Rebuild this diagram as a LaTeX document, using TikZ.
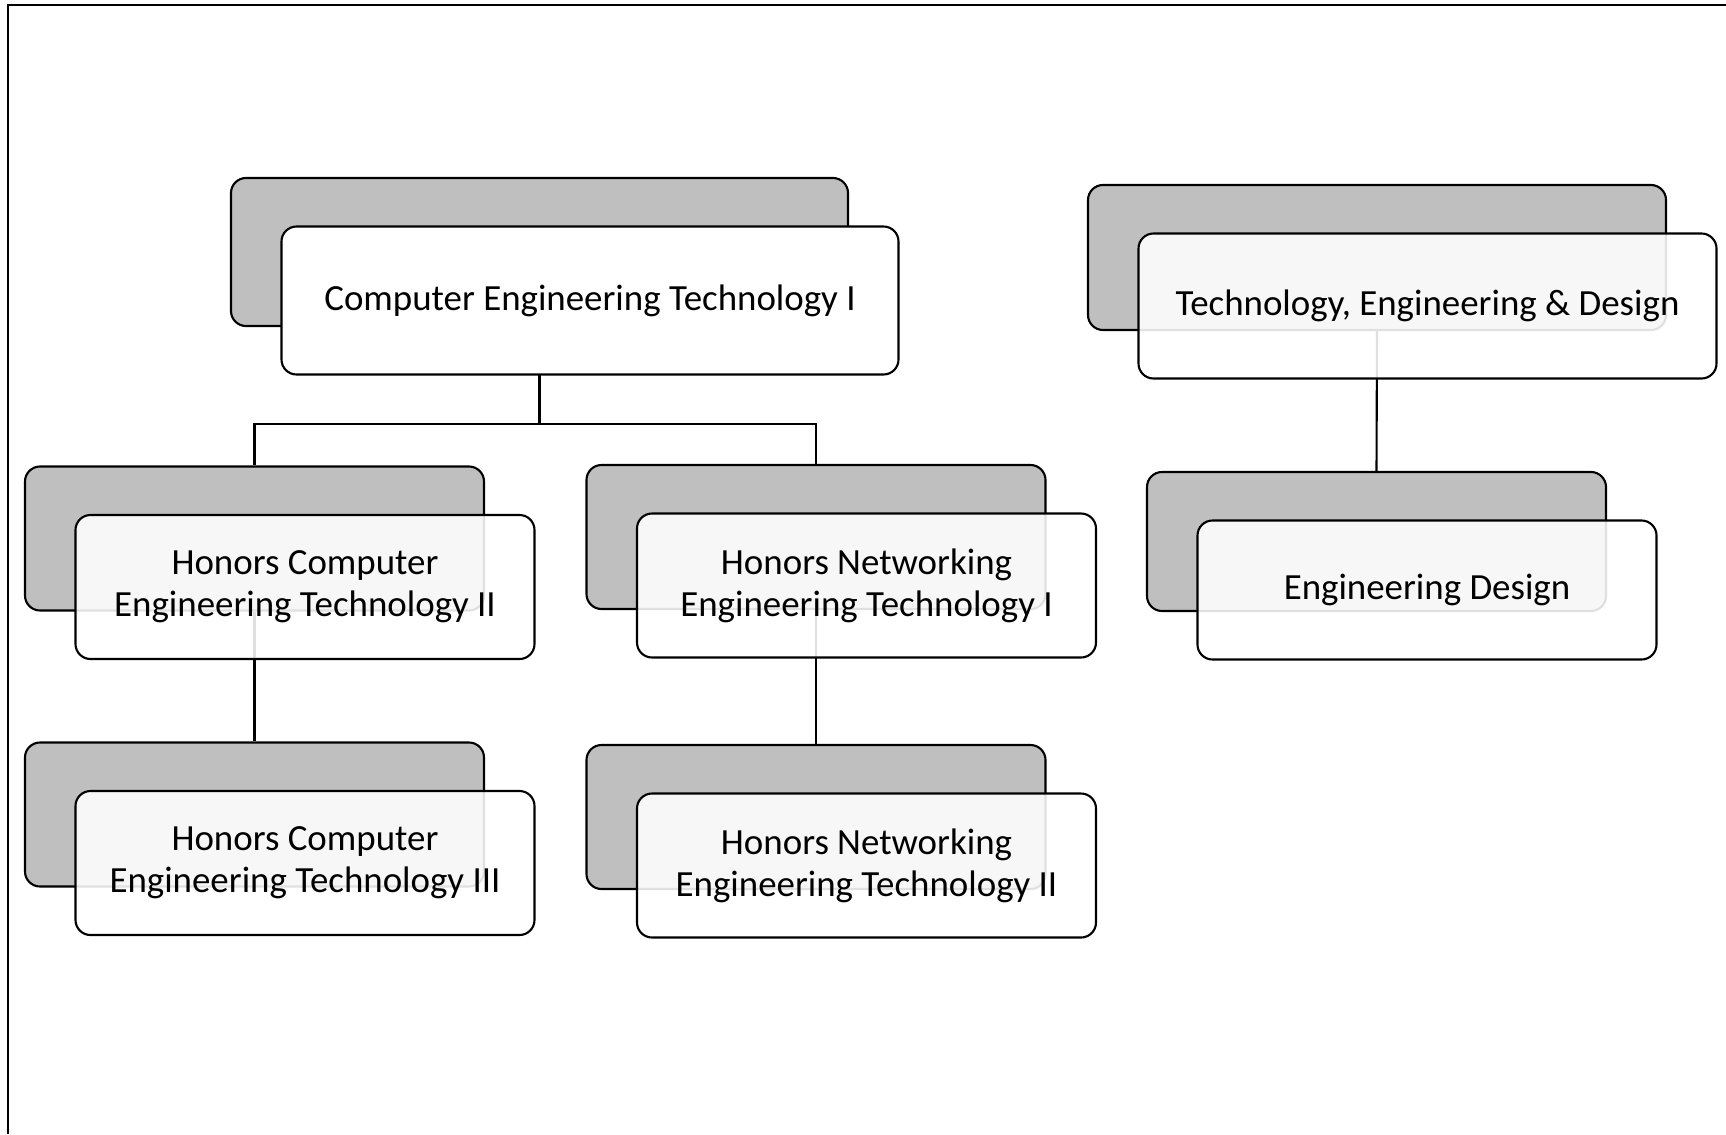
\documentclass[tikz,border=0pt]{standalone}
\usepackage{fontspec}
\setmainfont{Carlito}
\definecolor{boxgray}{RGB}{191,191,191}
\tikzset{
  back/.style={draw, line width=0.6pt, fill=boxgray, rounded corners=0.15cm,
    minimum width=4.59cm, minimum height=1.44cm},
  front/.style={draw, line width=0.6pt, fill=white, fill opacity=0.88, text opacity=1,
    rounded corners=0.15cm, minimum width=4.59cm, minimum height=1.44cm,
    align=center, font=\fontsize{10.5}{11.9}\selectfont},
  link/.style={line width=0.6pt}
}

\begin{document}
\begin{tikzpicture}
\useasboundingbox (0,0) rectangle (17.26,-11.34);
% frame
\draw [link] (0.08,-11.34) -- (0.08,-0.05) -- (17.26,-0.05);
% grey back boxes
\node[back, minimum width=6.17cm, minimum height=1.48cm] (cetA) at (5.395,-2.52) {};
\node[back, minimum width=5.78cm, minimum height=1.45cm] (tedA) at (13.77,-2.575) {};
\node[back] (hceA) at (2.545,-5.385) {};
\node[back] (hneA) at (8.16,-5.37) {};
\node[back] (hcfA) at (2.545,-8.145) {};
\node[back] (hnfA) at (8.16,-8.17) {};
\node[back, minimum height=1.39cm] (edA) at (13.765,-5.415) {};
% connectors
\draw [link] (cetA.south) -- ++(0,-0.97) coordinate (split);
\draw [link] (hceA.north) |- (split) -| (hneA.north);
\draw [link] (hceA.south) -- (hcfA.north);
\draw [link] (hneA.south) -- (hnfA.north);
\draw [link] (tedA.south) -- (edA.north);
% white front boxes
\node[front, minimum width=6.17cm, minimum height=1.48cm, fill opacity=1] (cet) at ([shift={(0.505,-0.485)}]cetA.center) {Computer Engineering Technology I};
\node[front, minimum width=5.78cm, minimum height=1.45cm] (ted) at ([shift={(0.505,-0.485)}]tedA.center) {Technology, Engineering \& Design};
\node[front] (hce) at ([shift={(0.505,-0.485)}]hceA.center) {Honors Computer\\Engineering Technology II};
\node[front] (hne) at ([shift={(0.505,-0.485)}]hneA.center) {Honors Networking\\Engineering Technology I};
\node[front] (hcf) at ([shift={(0.505,-0.485)}]hcfA.center) {Honors Computer\\Engineering Technology III};
\node[front] (hnf) at ([shift={(0.505,-0.485)}]hnfA.center) {Honors Networking\\Engineering Technology II};
\node[front, minimum height=1.39cm] (ed) at ([shift={(0.505,-0.485)}]edA.center) {Engineering Design};
\end{tikzpicture}
\end{document}
